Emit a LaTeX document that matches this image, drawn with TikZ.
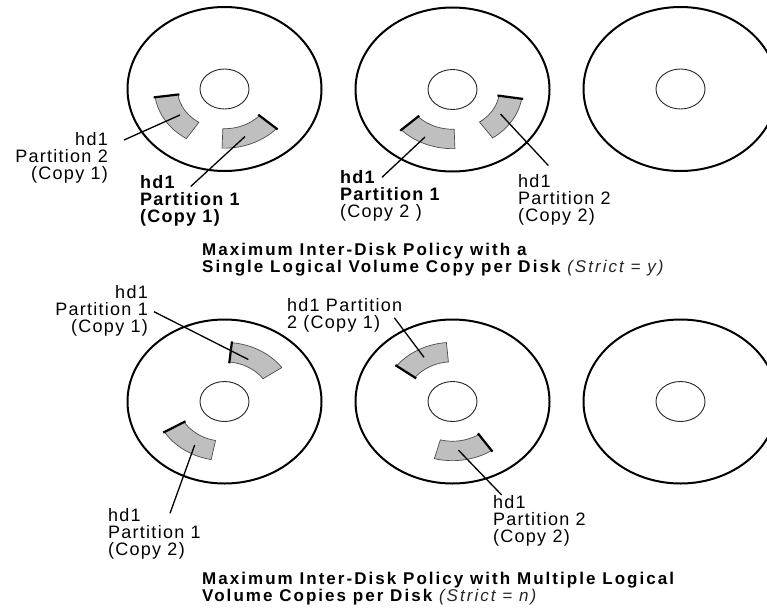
\documentclass[tikz,border=0pt]{standalone}
\usepackage{fontspec}
\setmainfont{Liberation Sans}
\newfontfamily\lblfont[LetterSpace=7]{Liberation Sans}
\newfontfamily\capfont[LetterSpace=12]{Liberation Sans}
\tikzset{
  disk/.style={draw=black, line width=2pt},
  hub/.style={draw=black!85, line width=0.9pt},
  part/.style={fill=black!25, draw=black!70, line width=0.7pt},
  partedge/.style={draw=black, line width=2.2pt},
  leader/.style={draw=black, line width=1.3pt},
  lab/.style={font=\fontsize{18}{17}\selectfont\lblfont, inner sep=0pt, align=left},
  labr/.style={lab, align=right},
  captext/.style={font=\fontsize{17}{16.5}\selectfont\capfont\bfseries, inner sep=0pt, align=left},
}
\newcommand\strictpart[1]{{\mdseries\itshape\color{black!85}#1}}
\newcommand\partsector[5]{%
  \begin{scope}[shift={(#1,#2)}, yscale=-0.845]
    \path[part] plot[domain=#3:#4, samples=24] ({47*cos(\x)},{47*sin(\x)})
      -- plot[domain=#4:#3, samples=24] ({70*cos(\x)},{70*sin(\x)}) -- cycle;
    \draw[partedge] (#5:45.5) -- (#5:71.5);
  \end{scope}}
\begin{document}
\begin{tikzpicture}[x=1pt, y=-1pt]
\useasboundingbox (0,0) rectangle (767,607);
\clip (0,0) rectangle (767,607);
\fill[white] (0,0) rectangle (767,607);

% disk centres
\coordinate (d1) at (224.5,89);
\coordinate (d2) at (452.5,89.5);
\coordinate (d3) at (680.5,89);
\coordinate (d4) at (224.5,401.5);
\coordinate (d5) at (452.5,401.5);
\coordinate (d6) at (680.5,401.5);

\foreach \d in {d1,d2,d3,d4,d5,d6}{
  \draw[disk] (\d) ellipse [x radius=97, y radius=82];
  \draw[hub] (\d) ellipse [x radius=24.5, y radius=20];
}

% partitions: cx cy a1 a2 thick-edge-angle
\partsector{224.5}{89}{188}{237}{188}
\partsector{224.5}{89}{268}{318}{318}
\partsector{452.5}{89.5}{223}{272}{223}
\partsector{452.5}{89.5}{305}{351}{351}
\partsector{224.5}{401.5}{35}{84}{84}
\partsector{224.5}{401.5}{211}{259}{211}
\partsector{452.5}{401.5}{95}{143}{143}
\partsector{452.5}{401.5}{255}{304}{304}

% leader end points
\coordinate (pA) at (180,115);   \coordinate (lA) at (124,140);
\coordinate (pB) at (245,136.5); \coordinate (lB) at (190.7,186.5);
\coordinate (pC) at (425,137);   \coordinate (lC) at (382,177.3);
\coordinate (pD) at (500.5,114); \coordinate (lD) at (548.3,165.5);
\coordinate (pE) at (248.3,359.5); \coordinate (lE) at (154,311.7);
\coordinate (pF) at (194.7,445); \coordinate (lF) at (170,513.3);
\coordinate (pG) at (424,357.3); \coordinate (lG) at (394.3,317.7);
\coordinate (pH) at (458.3,450); \coordinate (lH) at (501.7,495);

\foreach \a/\b in {lA/pA,lB/pB,lC/pC,lD/pD,lE/pE,lF/pF,lG/pG,lH/pH}
  \draw[leader] (\a) -- (\b);

% labels
\node[labr, anchor=north east] (tA) at (108,132) {hd1\\Partition 2\hspace{5pt}\\(Copy 1)};
\node[lab, anchor=north west] (tB) at (140,175) {\textbf{hd1}\\\textbf{Partition 1}\\\textbf{(Copy 1)}};
\node[lab, anchor=north west] (tC) at (340,170) {\textbf{hd1}\\\textbf{Partition 1}\\(Copy 2 )};
\node[lab, anchor=north west] (tD) at (518,174) {hd1\\Partition 2\\(Copy 2)};
\node[labr, anchor=north east] (tE) at (148,285) {hd1\\Partition 1\hspace{5pt}\\(Copy 1)};
\node[lab, anchor=north west] (tF) at (287,298) {hd1 Partition\\2 (Copy 1)};
\node[lab, anchor=north west] (tG) at (108,508) {hd1\\Partition 1\\(Copy 2)};
\node[lab, anchor=north west] (tH) at (493,495) {hd1\\Partition 2\\(Copy 2)};

% captions
\node[captext, anchor=north west] (c1) at (202,243)
  {Maximum Inter-Disk Policy with a\\Single Logical Volume Copy per Disk \strictpart{(Strict = y)}};
\node[captext, anchor=north west] (c2) at (202,572)
  {Maximum Inter-Disk Policy with Multiple Logical\\Volume Copies per Disk \strictpart{(Strict = n)}};
\end{tikzpicture}
\end{document}
